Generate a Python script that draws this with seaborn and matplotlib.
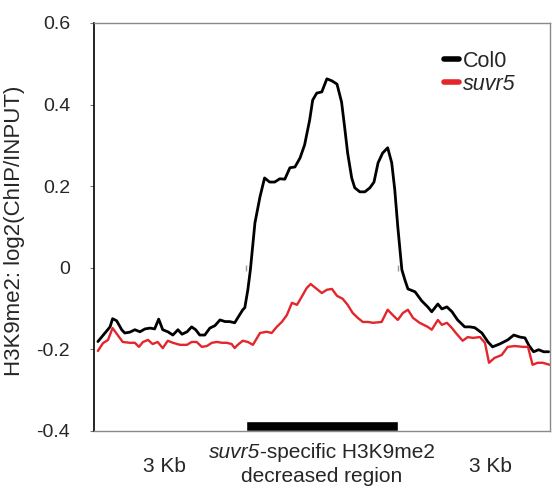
import pandas as pd
import matplotlib.pyplot as plt
import seaborn as sns

# x: scaled position (0-3 left flank, 3-6 decreased region, 6-9 right flank)
col0_x = [0.08, 0.22, 0.32, 0.37, 0.45, 0.55, 0.61, 0.71, 0.81, 0.91, 1.01, 1.11,
          1.20, 1.28, 1.36, 1.46, 1.56, 1.66, 1.74, 1.84, 1.93, 2.01, 2.09, 2.19,
          2.29, 2.39, 2.49, 2.59, 2.68, 2.78, 2.84, 2.94, 2.98, 3.04, 3.09, 3.18,
          3.28, 3.37, 3.47, 3.57, 3.67, 3.77, 3.87, 3.97, 4.07, 4.16, 4.26, 4.32,
          4.40, 4.50, 4.60, 4.70, 4.80, 4.89, 4.95, 5.01, 5.09, 5.15, 5.25, 5.35,
          5.45, 5.53, 5.61, 5.70, 5.80, 5.88, 5.94, 6.00, 6.08, 6.14, 6.20, 6.34,
          6.47, 6.59, 6.67, 6.79, 6.87, 6.97, 7.07, 7.18, 7.32, 7.42, 7.52, 7.66,
          7.78, 7.87, 8.01, 8.17, 8.29, 8.41, 8.51, 8.59, 8.68, 8.78, 8.88, 8.98]
col0_y = [-0.181, -0.160, -0.145, -0.125, -0.130, -0.152, -0.160, -0.158, -0.152,
          -0.157, -0.150, -0.148, -0.150, -0.126, -0.152, -0.157, -0.165, -0.152,
          -0.163, -0.157, -0.145, -0.152, -0.165, -0.165, -0.148, -0.142, -0.128,
          -0.132, -0.132, -0.135, -0.123, -0.103, -0.098, -0.054, -0.005, 0.110,
          0.174, 0.220, 0.210, 0.210, 0.218, 0.217, 0.245, 0.247, 0.269, 0.301,
          0.362, 0.411, 0.428, 0.431, 0.463, 0.458, 0.450, 0.406, 0.345, 0.281,
          0.220, 0.196, 0.186, 0.186, 0.196, 0.210, 0.257, 0.281, 0.294, 0.257,
          0.191, 0.100, -0.005, -0.030, -0.052, -0.059, -0.081, -0.096, -0.108,
          -0.089, -0.101, -0.096, -0.108, -0.128, -0.145, -0.145, -0.147, -0.160,
          -0.182, -0.194, -0.187, -0.177, -0.165, -0.170, -0.172, -0.191, -0.206,
          -0.201, -0.206, -0.206]

suvr5_x = [0.08, 0.18, 0.28, 0.37, 0.47, 0.57, 0.71, 0.81, 0.89, 0.97, 1.07, 1.16,
           1.26, 1.36, 1.46, 1.56, 1.70, 1.84, 1.93, 2.03, 2.13, 2.23, 2.33, 2.43,
           2.53, 2.62, 2.72, 2.78, 2.84, 2.94, 3.04, 3.14, 3.28, 3.41, 3.51, 3.61,
           3.71, 3.81, 3.91, 4.01, 4.10, 4.20, 4.28, 4.38, 4.50, 4.60, 4.70, 4.80,
           4.91, 5.01, 5.11, 5.21, 5.31, 5.41, 5.51, 5.68, 5.80, 5.90, 6.00, 6.10,
           6.20, 6.30, 6.43, 6.59, 6.67, 6.79, 6.87, 6.97, 7.07, 7.16, 7.28, 7.38,
           7.48, 7.62, 7.72, 7.80, 7.91, 8.05, 8.17, 8.31, 8.47, 8.57, 8.66, 8.76,
           8.86, 9.00]
suvr5_y = [-0.204, -0.185, -0.177, -0.148, -0.165, -0.182, -0.184, -0.184, -0.194,
           -0.182, -0.177, -0.187, -0.182, -0.197, -0.179, -0.184, -0.189, -0.189,
           -0.182, -0.182, -0.194, -0.192, -0.184, -0.182, -0.184, -0.184, -0.187,
           -0.197, -0.189, -0.179, -0.182, -0.189, -0.160, -0.157, -0.160, -0.145,
           -0.133, -0.116, -0.086, -0.091, -0.072, -0.050, -0.040, -0.050, -0.062,
           -0.054, -0.052, -0.069, -0.076, -0.091, -0.111, -0.123, -0.133, -0.133,
           -0.135, -0.133, -0.103, -0.116, -0.128, -0.111, -0.103, -0.123, -0.135,
           -0.145, -0.152, -0.128, -0.140, -0.135, -0.148, -0.162, -0.179, -0.170,
           -0.172, -0.170, -0.184, -0.233, -0.221, -0.214, -0.194, -0.192, -0.194,
           -0.194, -0.238, -0.233, -0.233, -0.238]

region_start, region_end = 3.0, 6.0
flank_label_x = [1.39, 7.83]
y_ticks = [0.6, 0.4, 0.2, 0, -0.2, -0.4]
y_tick_labels = ["0.6", "0.4", "0.2", "0", "-0.2", "-0.4"]

df = pd.concat([
    pd.DataFrame({"pos": col0_x, "value": col0_y, "line": "Col0"}),
    pd.DataFrame({"pos": suvr5_x, "value": suvr5_y, "line": "suvr5"}),
])

sns.set_style("white")
plt.rcParams["font.family"] = ["Liberation Sans", "DejaVu Sans"]

fig = plt.figure(figsize=(5.52, 4.88), dpi=100)
ax = fig.add_axes([0.170, 0.117, 0.826, 0.836])

sns.lineplot(data=df, x="pos", y="value", hue="line", sort=False,
             palette={"Col0": "black", "suvr5": "#e3262b"},
             linewidth=2.0, ax=ax)
ax.lines[1].set_linewidth(1.7)

# black bar marking the decreased region
ax.bar((region_start + region_end) / 2, 0.025, width=region_end - region_start,
       bottom=-0.4, color="black")
ax.plot([region_start, region_end], [0, 0], "|", color="#999999", ms=4, mew=1)

ax.set_xlim(0, 9)
ax.set_ylim(-0.4, 0.6)
ax.set_yticks(y_ticks)
ax.set_yticklabels(y_tick_labels, fontsize=14)
ax.set_xticks([])
ax.tick_params(axis="y", left=True, length=3, width=0.8, color="#777777", pad=14)
ax.set_xlabel("")
ax.set_ylabel("H3K9me2: log2(ChIP/INPUT)", fontsize=16)
ax.yaxis.set_label_coords(-0.152, 0.49)

for side in ["top", "right", "bottom"]:
    ax.spines[side].set_color("#8a8a8a")
    ax.spines[side].set_linewidth(1)
ax.spines["left"].set_color("black")
ax.spines["left"].set_linewidth(1.2)

tr = ax.get_xaxis_transform()
for x in flank_label_x:
    ax.text(x, -0.100, "3 Kb", transform=tr, ha="center", va="baseline", fontsize=15)

# mixed italic / regular first line, centred under the bar
t1 = ax.text(0, -0.066, "suvr5", style="italic", transform=tr,
             ha="left", va="baseline", fontsize=15)
t2 = ax.text(0, -0.066, "-specific H3K9me2", transform=tr,
             ha="left", va="baseline", fontsize=15)
ax.text((region_start + region_end) / 2, -0.125, "decreased region", transform=tr,
        ha="center", va="baseline", fontsize=15)
renderer = fig.canvas.get_renderer()
w1 = t1.get_window_extent(renderer).width
w2 = t2.get_window_extent(renderer).width
cx = ax.transData.transform(((region_start + region_end) / 2, 0))[0]
inv = ax.transData.inverted()
t1.set_x(inv.transform((cx - (w1 + w2) / 2, 0))[0])
t2.set_x(inv.transform((cx - (w1 + w2) / 2 + w1, 0))[0])

leg = ax.legend(loc="upper left", bbox_to_anchor=(0.7675, 0.932), frameon=False,
                fontsize=15.5, handlelength=0.7, handletextpad=0.2,
                labelspacing=0.1, borderpad=0, borderaxespad=0)
for h in leg.get_lines():
    h.set_linewidth(4)
leg.get_texts()[1].set_fontstyle("italic")

fig.savefig("out.png", dpi=100)
